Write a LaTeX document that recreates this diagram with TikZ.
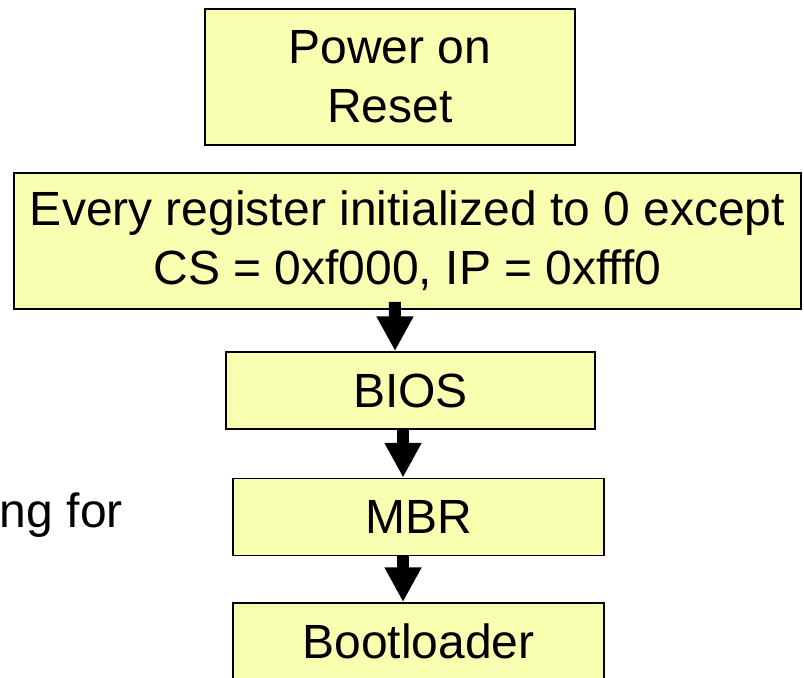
\documentclass[tikz,border=0pt]{standalone}
\usepackage{fontspec}
\setmainfont{Liberation Sans}
\usepackage{tikz}
\usetikzlibrary{arrows.meta}
\definecolor{boxyellow}{RGB}{248,255,176}

\begin{document}
\begin{tikzpicture}[x=0.75pt,y=-0.75pt]
    \tikzstyle{every node}=[font=\fontsize{36}{44.5}\selectfont,inner sep=0pt]
    \tikzstyle{stage}=[draw=black,line width=1.2pt,fill=boxyellow,align=center]
    \tikzstyle{flow}=[line width=9pt,-{Triangle[width=26pt,length=26pt]}]
      \clip (0,0) rectangle (804,678);
      \node[stage,minimum width=277.5pt,minimum height=102pt] (power) at (390,77)    {Power on\\Reset};
      \node[stage,minimum width=590pt,minimum height=102pt]   (regs)  at (407.5,241) {Every register initialized to 0 except\\CS = 0xf000, IP = 0xfff0};
      \node[stage,minimum width=277pt,minimum height=58pt]    (bios)  at (410.5,390.5) {BIOS};
      \node[stage,minimum width=278pt,minimum height=58pt]    (mbr)   at (418.5,517) {MBR};
      \node[stage,minimum width=278pt,minimum height=58pt]    (boot)  at (418.5,641.5) {Bootloader};
      \node[anchor=base east] (note) at (123,527) {ng for};

      \draw[flow] ([xshift=-9.4pt,yshift=6pt]regs.south) -- ([xshift=-11.6pt]bios.north);
      \draw[flow] ([xshift=-5.6pt]bios.south)  -- ([xshift=-11.6pt]mbr.north);
      \draw[flow] ([xshift=-11.6pt]mbr.south)  -- ([xshift=-11.6pt]boot.north);
    \end{tikzpicture}
\end{document}
